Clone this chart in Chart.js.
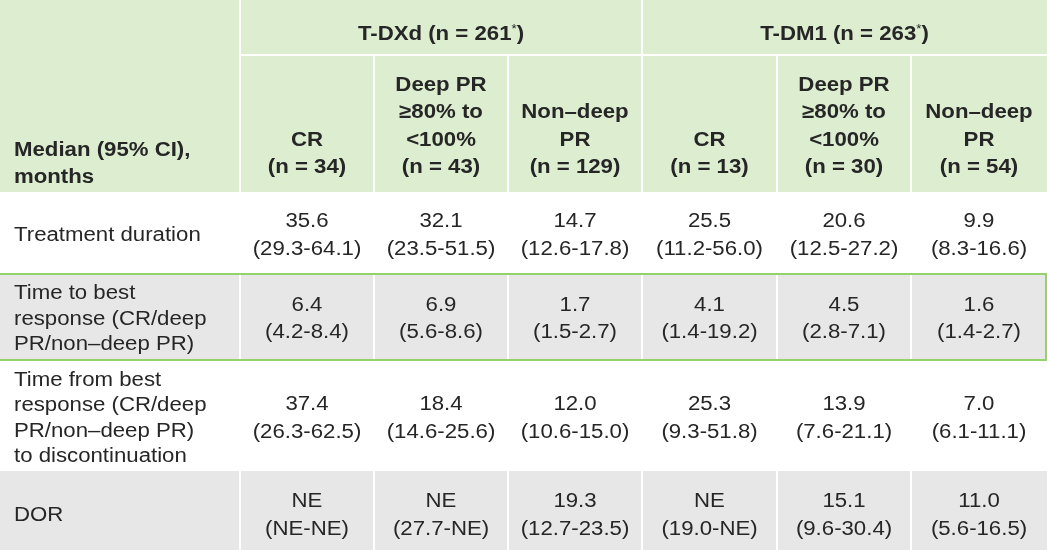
<!DOCTYPE html>
<html><head><meta charset="utf-8">
<script src="https://cdn.jsdelivr.net/npm/chart.js@4.4.1/dist/chart.umd.min.js"></script>
<style>html,body{margin:0;padding:0;background:#fff;overflow:hidden;font-family:"Liberation Sans",Arial,sans-serif}#wrap{width:1047px;height:550px;position:relative}.pre{position:absolute;left:-9999px;top:0}</style>
</head><body><div id="wrap"><canvas id="c"></canvas></div>
<span class="pre" style="font-family:'Liberation Sans'">Aa</span><span class="pre" style="font-family:'Liberation Sans';font-weight:bold">Aa</span>
<script>
// ---------- data ----------
const groupLabels = ['T-DXd (n = 261', 'T-DM1 (n = 263'];
const groupNote = '*';
const categories = [['CR'], ['Deep PR', '≥80% to', '<100%'], ['Non–deep', 'PR']];
const nTDXd = [34, 43, 129];
const nTDM1 = [13, 30, 54];
const stubHeader = ['Median (95% CI),', 'months'];
const rowLabels = [
  ['Treatment duration'],
  ['Time to best', 'response (CR/deep', 'PR/non–deep PR)'],
  ['Time from best', 'response (CR/deep', 'PR/non–deep PR)', 'to discontinuation'],
  ['DOR']
];
const treatmentDuration   = ['35.6', '32.1', '14.7', '25.5', '20.6', '9.9'];
const treatmentDurationCI = ['(29.3-64.1)', '(23.5-51.5)', '(12.6-17.8)', '(11.2-56.0)', '(12.5-27.2)', '(8.3-16.6)'];
const timeToBest          = ['6.4', '6.9', '1.7', '4.1', '4.5', '1.6'];
const timeToBestCI        = ['(4.2-8.4)', '(5.6-8.6)', '(1.5-2.7)', '(1.4-19.2)', '(2.8-7.1)', '(1.4-2.7)'];
const timeFromBest        = ['37.4', '18.4', '12.0', '25.3', '13.9', '7.0'];
const timeFromBestCI      = ['(26.3-62.5)', '(14.6-25.6)', '(10.6-15.0)', '(9.3-51.8)', '(7.6-21.1)', '(6.1-11.1)'];
const dor                 = ['NE', 'NE', '19.3', 'NE', '15.1', '11.0'];
const dorCI               = ['(NE-NE)', '(27.7-NE)', '(12.7-23.5)', '(19.0-NE)', '(9.6-30.4)', '(5.6-16.5)'];

const rowMedians = [treatmentDuration, timeToBest, timeFromBest, dor];
const rowCIs = [treatmentDurationCI, timeToBestCI, timeFromBestCI, dorCI];

// ---------- layout (grid in scale units) ----------
const COLS = [0, 240, 374, 508, 642, 777, 911, 1047];
const ROWS = [0, 55, 192, 274, 360, 471, 556];
const ROW_CENTERS = [234, 317.5, 417, 514];
const HEADER_BG = '#ddedd0';
const GRAY_BG = '#e7e7e7';
const GREEN = '#95d36a';
const TXT = '#262626';
const FS = 20, SX = 1.11;
const FONT = '"Liberation Sans", Arial, Helvetica, sans-serif';

const tablePlugin = {
  id: 'table',
  beforeDraw(chart) {
    const xs = chart.scales.x, ys = chart.scales.y, ctx = chart.ctx;
    const X = v => xs.getPixelForValue(v), Y = v => ys.getPixelForValue(v);
    const rect = (x0, y0, x1, y1, c) => { ctx.fillStyle = c; ctx.fillRect(X(x0), Y(y0), X(x1) - X(x0), Y(y1) - Y(y0)); };
    const line = (x0, y0, x1, y1, c, w) => { ctx.strokeStyle = c; ctx.lineWidth = w; ctx.beginPath(); ctx.moveTo(X(x0), Y(y0)); ctx.lineTo(X(x1), Y(y1)); ctx.stroke(); };
    const setFont = (bold, size) => { ctx.font = (bold ? 'bold ' : 'normal ') + size + 'px ' + FONT; };
    const measure = (s, bold, size) => { setFont(bold, size); return ctx.measureText(s).width * SX; };
    const text = (s, x, y, align, bold, size) => {
      size = size || FS;
      const w = measure(s, bold, size);
      const x0 = align === 'center' ? X(x) - w / 2 : X(x);
      ctx.save(); setFont(bold, size); ctx.fillStyle = TXT; ctx.textAlign = 'left'; ctx.textBaseline = 'alphabetic';
      ctx.translate(x0, Y(y)); ctx.scale(SX, 1); ctx.fillText(s, 0, 0); ctx.restore();
    };
    const W = COLS[COLS.length - 1];
    ctx.save();
    rect(0, ROWS[0], W, ROWS[2], HEADER_BG);
    rect(0, ROWS[2], W, ROWS[3], '#ffffff');
    rect(0, ROWS[3], W, ROWS[4], GRAY_BG);
    rect(0, ROWS[4], W, ROWS[5], '#ffffff');
    rect(0, ROWS[5], W, ROWS[6], GRAY_BG);
    line(COLS[1], ROWS[1], W, ROWS[1], '#ffffff', 2);
    [1, 4].forEach(i => line(COLS[i], ROWS[0], COLS[i], ROWS[2], '#ffffff', 2));
    [2, 3, 5, 6].forEach(i => line(COLS[i], ROWS[1], COLS[i], ROWS[2], '#ffffff', 2));
    [3, 5].forEach(r => { for (let i = 1; i < COLS.length - 1; i++) line(COLS[i], ROWS[r], COLS[i], ROWS[r + 1], '#ffffff', 2); });
    line(0, ROWS[3], W, ROWS[3], GREEN, 2);
    line(0, ROWS[4], W, ROWS[4], GREEN, 2);
    line(W - 1, ROWS[3], W - 1, ROWS[4], GREEN, 2);

    groupLabels.forEach((g, gi) => {
      const cx = (COLS[1 + gi * 3] + COLS[4 + gi * 3]) / 2;
      const w1 = measure(g, true, FS), w2 = measure(groupNote, false, 12), w3 = measure(')', true, FS);
      const start = cx - (w1 + w2 + w3) / 2;
      const by = 39.5;
      text(g, start, by, 'left', true, FS);
      text(groupNote, start + w1, by - 7, 'left', false, 12);
      text(')', start + w1 + w2, by, 'left', true, FS);
    });
    const HLH = 27.3, HBASE = 173;
    [nTDXd, nTDM1].forEach((ns, gi) => {
      categories.forEach((cat, ci) => {
        const lines = cat.concat(['(n = ' + ns[ci] + ')']);
        const c = 1 + gi * 3 + ci;
        const cx = (COLS[c] + COLS[c + 1]) / 2;
        lines.forEach((s, li) => text(s, cx, HBASE - (lines.length - 1 - li) * HLH, 'center', true));
      });
    });
    stubHeader.forEach((s, li) => text(s, 14, 183 - (stubHeader.length - 1 - li) * 27, 'left', true));

    const capH = FS * 0.716;
    rowLabels.forEach((lab, r) => {
      const cc = ROW_CENTERS[r];
      const lh = 25.5;
      lab.forEach((s, li) => text(s, 14, cc - (lab.length - 1) / 2 * lh + li * lh + capH / 2, 'left', false));
      const vlh = 27.5;
      for (let c = 0; c < 6; c++) {
        const cx = (COLS[c + 1] + COLS[c + 2]) / 2;
        const lines = [rowMedians[r][c], rowCIs[r][c]];
        lines.forEach((s, li) => text(s, cx, cc - (lines.length - 1) / 2 * vlh + li * vlh + capH / 2, 'center', false));
      }
    });
    ctx.restore();
  }
};

function makeChart() {
  new Chart(document.getElementById('c'), {
    type: 'scatter',
    data: { datasets: [{ data: [], pointRadius: 0 }] },
    options: {
      responsive: true, maintainAspectRatio: false, animation: false,
      layout: { padding: 0 },
      plugins: { legend: { display: false }, tooltip: { enabled: false } },
      scales: {
        x: { type: 'linear', min: 0, max: 1047, display: false },
        y: { type: 'linear', min: 0, max: 550, reverse: true, display: false }
      }
    },
    plugins: [tablePlugin]
  });
}
const fontLoads = document.fonts && document.fonts.load
  ? Promise.all([document.fonts.load('20px "Liberation Sans"'), document.fonts.load('bold 20px "Liberation Sans"')])
  : Promise.resolve();
fontLoads.then(makeChart, makeChart);
</script>
</body></html>
